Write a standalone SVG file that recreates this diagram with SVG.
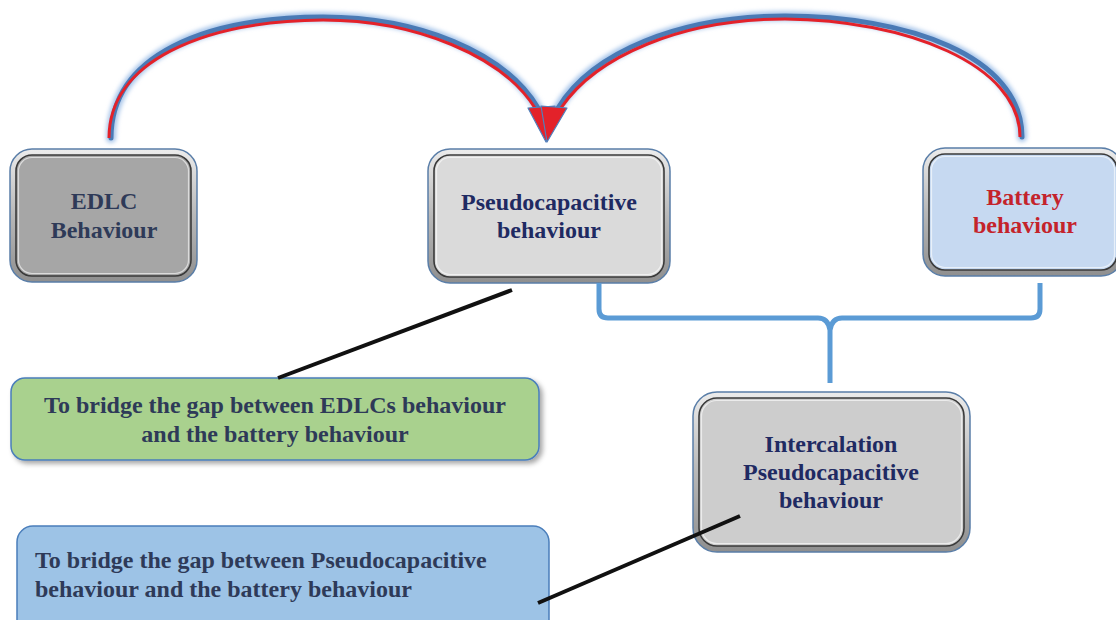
<svg xmlns="http://www.w3.org/2000/svg" width="1116" height="620" viewBox="0 0 1116 620">
<defs>
<linearGradient id="bevel" x1="0" y1="0" x2="0" y2="1">
<stop offset="0" stop-color="#ececec"/>
<stop offset="0.5" stop-color="#b8b8b8"/>
<stop offset="1" stop-color="#8f8f8f"/>
</linearGradient>
<filter id="shadow" x="-5%" y="-10%" width="115%" height="130%">
<feDropShadow dx="3" dy="3" stdDeviation="2.5" flood-color="#000" flood-opacity="0.35"/>
</filter>
<filter id="glow" x="-10%" y="-10%" width="120%" height="120%">
<feGaussianBlur stdDeviation="2"/>
</filter>
</defs>
<style>
.outer{fill:url(#bevel);stroke:#5a7ea8;stroke-width:1.5}
.inner{stroke:#3a3a3a;stroke-width:1.6}
.hl{fill:none;stroke:#ffffff;stroke-opacity:0.6;stroke-width:1.2}
.t{font-family:"Liberation Serif","Times New Roman",serif;font-weight:bold;font-size:24px;text-anchor:middle}
.slate{fill:#2e3a58}
.navy{fill:#1f2a62}
.red{fill:#c4232b}
.note{stroke:#4a7ebb;stroke-width:1.5}
.halo{fill:none;stroke:#a9c6ea;stroke-width:10;stroke-linecap:round}
.blue{fill:none;stroke:#4a7ab5;stroke-width:5;stroke-linecap:round}
.redline{fill:none;stroke:#e3222a;stroke-width:3}
.brace{fill:none;stroke:#5b9bd5;stroke-width:5;stroke-linejoin:round}
.pointer{stroke:#111;stroke-width:4;stroke-linecap:butt}
</style>

<g id="edlc">
<rect class="outer" x="10" y="149" width="187" height="133" rx="22"/>
<rect class="inner" x="16" y="155" width="175" height="121" rx="16" fill="#a6a6a6"/>
<rect class="hl" x="18.5" y="157.5" width="170" height="116" rx="13.5"/>
<text class="t slate" x="104" y="209">EDLC</text>
<text class="t slate" x="104" y="238">Behaviour</text>
</g>

<g id="pseudo">
<rect class="outer" x="428" y="149" width="242" height="134" rx="22"/>
<rect class="inner" x="434" y="155" width="230" height="122" rx="16" fill="#dadada"/>
<rect class="hl" x="436.5" y="157.5" width="225" height="117" rx="13.5"/>
<text class="t navy" x="549" y="210">Pseudocapacitive</text>
<text class="t navy" x="549" y="238">behaviour</text>
</g>

<g id="battery">
<rect class="outer" x="923" y="148" width="200" height="128" rx="22"/>
<rect class="inner" x="929" y="154" width="188" height="116" rx="16" fill="#c6d9f1"/>
<rect class="hl" x="931.5" y="156.5" width="183" height="111" rx="13.5"/>
<text class="t red" x="1025" y="205">Battery</text>
<text class="t red" x="1025" y="233">behaviour</text>
</g>

<g id="intercalation">
<rect class="outer" x="693" y="392" width="277" height="160" rx="24"/>
<rect class="inner" x="699" y="398" width="265" height="148" rx="18" fill="#cdcdcd"/>
<rect class="hl" x="701.5" y="400.5" width="260" height="143" rx="15.5"/>
<text class="t navy" x="831" y="452">Intercalation</text>
<text class="t navy" x="831" y="480">Pseudocapacitive</text>
<text class="t navy" x="831" y="508">behaviour</text>
</g>

<g id="note-green">
<rect class="note" x="11" y="378" width="528" height="82" rx="14" fill="#a9d18e" filter="url(#shadow)"/>
<text class="t slate" x="275" y="413">To bridge the gap between EDLCs behaviour</text>
<text class="t slate" x="275" y="442">and the battery behaviour</text>
</g>

<g id="note-blue">
<rect class="note" x="17" y="526" width="532" height="110" rx="16" fill="#9dc3e6"/>
<text class="t slate" x="35" y="568" style="text-anchor:start">To bridge the gap between Pseudocapacitive</text>
<text class="t slate" x="35" y="597" style="text-anchor:start">behaviour and the battery behaviour</text>
</g>

<g id="connectors">
<g filter="url(#glow)">
<path class="halo" d="M111,138 C111,55 205,17 323,17 C418,17 505,52 538,108"/>
<path class="halo" d="M1022,137 C1022,55 905,16 785,16 C680,16 592,52 558,108"/>
</g>
<path class="blue" d="M111,138 C111,55 205,17 323,17 C418,17 505,52 538,108"/>
<path class="blue" d="M1022,137 C1022,55 905,16 785,16 C680,16 592,52 558,108"/>
<path class="redline" d="M109,138 C109,62 202,21 323,20 C416,20 502,56 535,108"/>
<path class="redline" d="M1020,137 C1020,64 905,20 785,19 C682,19 596,56 561,108"/>
<polygon points="528,108 555,106 546,142" fill="#e3222a" stroke="#4f81bd" stroke-width="1.2" stroke-linejoin="round"/>
<polygon points="541,106 567,108 547,142" fill="#e3222a" stroke="#4f81bd" stroke-width="1.2" stroke-linejoin="round"/>
<path class="brace" d="M599,283 L599,309 Q599,318 608,318 L818,318 Q828,318 830,330 L830,383 M1040,283 L1040,309 Q1040,318 1031,318 L842,318 Q832,318 830,330"/>
<line class="pointer" x1="512" y1="290" x2="278" y2="378"/>
<line class="pointer" x1="740" y1="516" x2="538" y2="603"/>
</g>
</svg>
